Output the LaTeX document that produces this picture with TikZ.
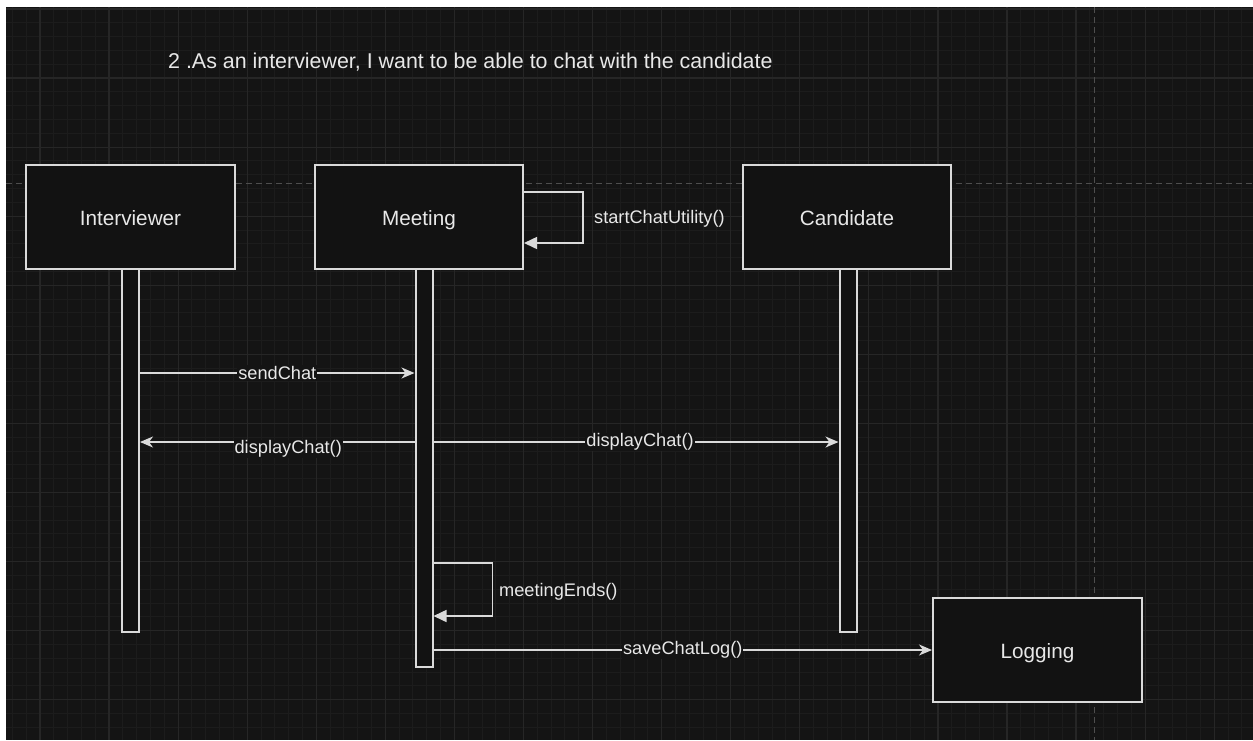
\documentclass[tikz,border=0pt]{standalone}
\usepackage{fontspec}
\setmainfont{Liberation Sans}
\usetikzlibrary{arrows.meta}
\definecolor{bg}{RGB}{20,20,20}
\definecolor{boxfill}{RGB}{18,18,18}
\definecolor{minorc}{RGB}{28,28,28}
\definecolor{majorc}{RGB}{38,38,38}
\definecolor{guidec}{RGB}{78,78,78}
\definecolor{linec}{RGB}{218,218,218}
\definecolor{txt}{RGB}{232,232,232}
\begin{document}
\begin{tikzpicture}[x=1pt,y=-1pt,
  minorline/.style={draw=minorc,line width=1pt},
  majorline/.style={draw=majorc,line width=1.2pt},
  guide/.style={draw=guidec,line width=1pt,dash pattern=on 6pt off 4pt},
  box/.style={draw=linec,fill=boxfill,line width=2pt,minimum width=208pt,minimum height=104pt,inner sep=0pt,text=txt,text height=19pt,text depth=3pt,font=\fontsize{20.7}{24}\selectfont},
  bar/.style={draw=linec,fill=boxfill,line width=2pt,minimum width=17pt,inner sep=0pt},
  msg/.style={draw=linec,line width=1.5pt,-{Stealth[length=13pt,width=11pt,inset=4pt]}},
  selfmsg/.style={draw=linec,line width=1.5pt,-{Triangle[length=13pt,width=12pt]}},
  lbl/.style={fill=bg,inner sep=1pt,text=txt,font=\fontsize{18.2}{20}\selectfont},
  sidelbl/.style={anchor=west,inner sep=0pt,text=txt,font=\fontsize{18.2}{20}\selectfont},
  titlelbl/.style={anchor=west,inner sep=0pt,text=txt,font=\fontsize{21.4}{24}\selectfont}]
\useasboundingbox (0,0) rectangle (1253,740);
\fill[white] (0,0) rectangle (1253,740);
\fill[bg] (6,7) rectangle (1253,740);
\begin{scope}
\clip (6,7) rectangle (1253,740);
\foreach \i in {-2,...,88} {\draw[minorline] ({40+13.814*\i},7) -- ({40+13.814*\i},740);}
\foreach \j in {0,...,53} {\draw[minorline] (6,{9+13.814*\j}) -- (1253,{9+13.814*\j});}
\foreach \i in {0,...,17} {\draw[majorline] ({40+69.07*\i},7) -- ({40+69.07*\i},740);}
\foreach \j in {0,...,10} {\draw[majorline] (6,{9+69.07*\j}) -- (1253,{9+69.07*\j});}
\draw[guide] (6,183) -- (1253,183);
\draw[guide] (1094,7) -- (1094,740);
\end{scope}

\node[titlelbl] (title) at (168,62) {2 .As an interviewer, I want to be able to chat with the candidate};

\node[bar,minimum height=363pt] (ibar) at (130.5,450.5) {};
\node[bar,minimum height=398pt] (mbar) at (424,468) {};
\node[bar,minimum height=363pt] (cbar) at (848,450.5) {};

\node[box,minimum width=209pt] (interviewer) at (130.5,217) {Interviewer};
\node[box] (meeting) at (419,217) {Meeting};
\node[box] (candidate) at (847,217) {Candidate};
\node[box,minimum width=209pt] (logging) at (1037.5,650) {Logging};

\coordinate (ya) at (0,192);
\coordinate (yb) at (0,243);
\coordinate (y1) at (0,373);
\coordinate (y2) at (0,442);
\coordinate (yc) at (0,563);
\coordinate (yd) at (0,616);
\coordinate (y4) at (0,650);

\draw[selfmsg] (meeting.east |- ya) -- ++(59,0) -- ++(0,51) -- (meeting.east |- yb);
\node[sidelbl] (l1) at (594,219) {startChatUtility()};

\draw[msg] (ibar.east |- y1) -- node[lbl] {sendChat} (mbar.west |- y1);
\draw[msg] (mbar.west |- y2) -- node[lbl,pos=0.46,yshift=-7pt] {displayChat()} (ibar.east |- y2);
\draw[msg] (mbar.east |- y2) -- node[lbl,pos=0.51] {displayChat()} (cbar.west |- y2);

\draw[selfmsg] (mbar.east |- yc) -- ++(59,0) -- ++(0,53) -- (mbar.east |- yd);
\node[sidelbl] (l2) at (499,592) {meetingEnds()};

\draw[msg] (mbar.east |- y4) -- node[lbl] {saveChatLog()} (logging.west |- y4);
\end{tikzpicture}
\end{document}
